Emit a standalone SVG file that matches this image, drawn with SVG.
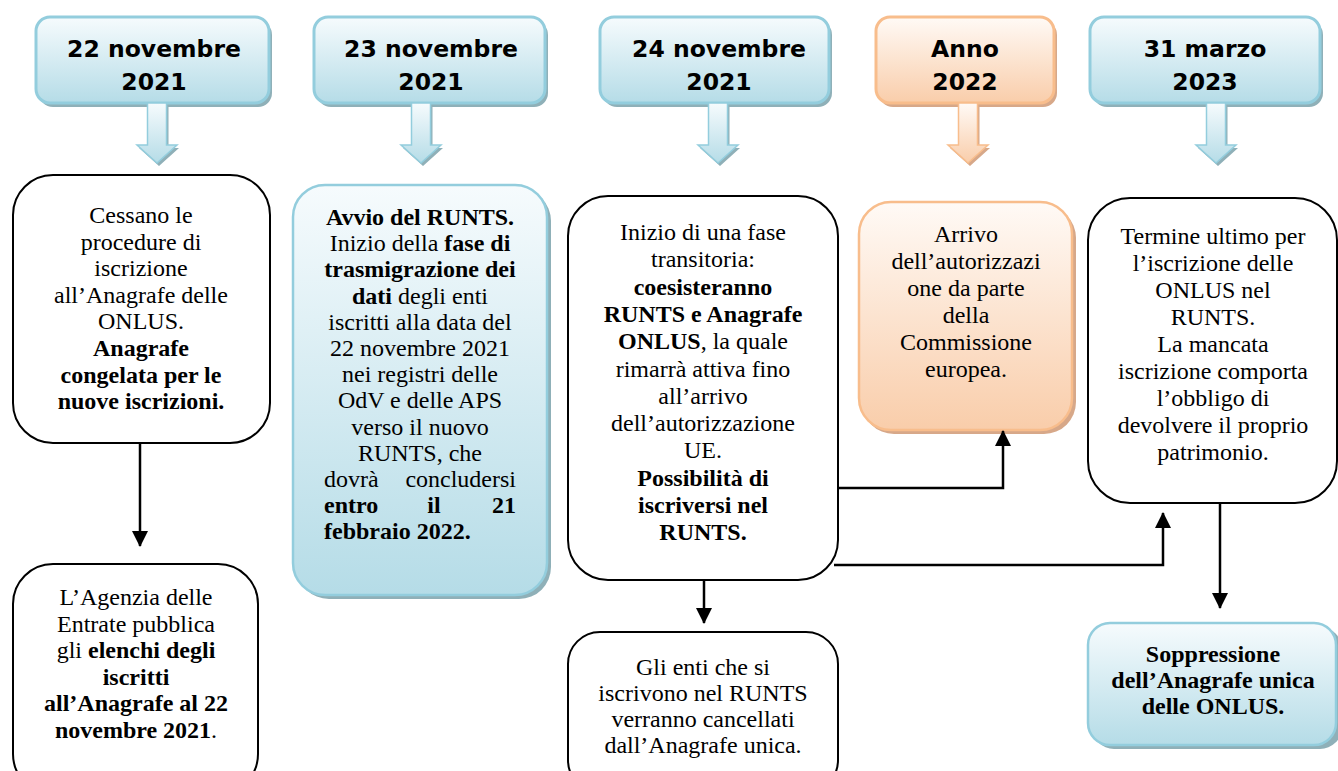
<svg xmlns="http://www.w3.org/2000/svg" width="1338" height="771" viewBox="0 0 1338 771">
<defs>
<linearGradient id="gBlue" x1="0" y1="0" x2="0" y2="1"><stop offset="0" stop-color="#f6fbfd"/><stop offset="1" stop-color="#b5dce7"/></linearGradient>
<linearGradient id="gOrange" x1="0" y1="0" x2="0" y2="1"><stop offset="0" stop-color="#fffaf6"/><stop offset="1" stop-color="#f9cdaa"/></linearGradient>
<marker id="ah" viewBox="0 0 16 16" markerUnits="userSpaceOnUse" markerWidth="16" markerHeight="16" refX="15" refY="8" orient="auto"><path d="M0,0 L16,8 L0,16 z" fill="#000"/></marker>
<style>
.hdr{fill:url(#gBlue);stroke:#93cddd;stroke-width:3}
.hdrO{fill:url(#gOrange);stroke:#f8bd8c;stroke-width:3}
.shB{fill:#8fb0b8}
.shO{fill:#d7a889}
.bar{fill:url(#gBlue);stroke:#93cddd;stroke-width:1.5}
.barO{fill:url(#gOrange);stroke:#f8bd8c;stroke-width:1.5}
.box{fill:#fff;stroke:#000;stroke-width:2}
.bl{fill:url(#gBlue);stroke:#93cddd;stroke-width:2.5}
.or{fill:url(#gOrange);stroke:#f8bd8c;stroke-width:2.5}
.ht{font-family:"DejaVu Sans",Verdana,sans-serif;font-weight:bold;font-size:23.5px;fill:#000;text-anchor:middle}
.t{font-family:"Liberation Serif","Times New Roman",serif;font-size:24px;fill:#000;text-anchor:middle}
.t.ts{text-anchor:start}
.t.te{text-anchor:end}
.b{font-weight:bold}
.conn{fill:none;stroke:#000;stroke-width:2.5;marker-end:url(#ah)}
</style>
</defs>
<rect width="1338" height="771" fill="#fff"/>

<!-- Headers -->
<g id="h1">
<rect class="shB" x="39" y="21" width="233" height="86" rx="14"/>
<rect class="hdr" x="36" y="17" width="233" height="86" rx="14"/>
<polygon class="shB" points="149.5,106 168.5,106 168.5,148 179,148 159,166 139,148 149.5,148"/>
<polygon class="bar" points="147.5,103 166.5,103 166.5,145 177,145 157,163 137,145 147.5,145"/>
<text class="ht" x="154" y="57">22 novembre</text>
<text class="ht" x="154" y="90">2021</text>
</g>
<g id="h2">
<rect class="shB" x="317" y="21" width="231" height="86" rx="14"/>
<rect class="hdr" x="314" y="17" width="231" height="86" rx="14"/>
<polygon class="shB" points="413.5,106 432.5,106 432.5,148 443,148 423,166 403,148 413.5,148"/>
<polygon class="bar" points="411.5,103 430.5,103 430.5,145 441,145 421,163 401,145 411.5,145"/>
<text class="ht" x="431" y="57">23 novembre</text>
<text class="ht" x="431" y="90">2021</text>
</g>
<g id="h3">
<rect class="shB" x="603" y="21" width="229" height="86" rx="14"/>
<rect class="hdr" x="600" y="17" width="229" height="86" rx="14"/>
<polygon class="shB" points="710.5,106 729.5,106 729.5,148 740,148 720,166 700,148 710.5,148"/>
<polygon class="bar" points="708.5,103 727.5,103 727.5,145 738,145 718,163 698,145 708.5,145"/>
<text class="ht" x="719" y="57">24 novembre</text>
<text class="ht" x="719" y="90">2021</text>
</g>
<g id="h4">
<rect class="shO" x="879" y="21" width="178" height="86" rx="14"/>
<rect class="hdrO" x="876" y="17" width="178" height="86" rx="14"/>
<polygon class="shO" points="960.5,106 979.5,106 979.5,148 990,148 970,166 950,148 960.5,148"/>
<polygon class="barO" points="958.5,103 977.5,103 977.5,145 988,145 968,163 948,145 958.5,145"/>
<text class="ht" x="965" y="57">Anno</text>
<text class="ht" x="965" y="90">2022</text>
</g>
<g id="h5">
<rect class="shB" x="1093" y="21" width="230" height="86" rx="14"/>
<rect class="hdr" x="1090" y="17" width="230" height="86" rx="14"/>
<polygon class="shB" points="1208.5,106 1227.5,106 1227.5,148 1238,148 1218,166 1198,148 1208.5,148"/>
<polygon class="bar" points="1206.5,103 1225.5,103 1225.5,145 1236,145 1216,163 1196,145 1206.5,145"/>
<text class="ht" x="1205" y="57">31 marzo</text>
<text class="ht" x="1205" y="90">2023</text>
</g>

<!-- Body nodes -->
<g id="b1">
<rect class="box" x="13" y="175" width="257" height="268" rx="40"/>
<text class="t" x="141" y="223">Cessano le</text>
<text class="t" x="141" y="249.6">procedure di</text>
<text class="t" x="141" y="276.2">iscrizione</text>
<text class="t" x="141" y="302.8">all’Anagrafe delle</text>
<text class="t" x="141" y="329.4">ONLUS.</text>
<text class="t b" x="141" y="356">Anagrafe</text>
<text class="t b" x="141" y="382.6">congelata per le</text>
<text class="t b" x="141" y="409.2">nuove iscrizioni.</text>
</g>
<g id="b2">
<rect class="box" x="13" y="564" width="245" height="230" rx="40"/>
<text class="t" x="136" y="605">L’Agenzia delle</text>
<text class="t" x="136" y="631.5">Entrate pubblica</text>
<text class="t" x="136" y="658">gli <tspan class="b">elenchi degli</tspan></text>
<text class="t b" x="136" y="684.5">iscritti</text>
<text class="t b" x="136" y="711">all’Anagrafe al 22</text>
<text class="t" x="136" y="737.5"><tspan class="b">novembre 2021</tspan>.</text>
</g>
<g id="b3">
<rect class="shB" x="297" y="189" width="254" height="410" rx="32"/>
<rect class="bl" x="293" y="185" width="254" height="410" rx="32"/>
<text class="t b" x="420" y="225">Avvio del RUNTS.</text>
<text class="t" x="420" y="251.2">Inizio della <tspan class="b">fase di</tspan></text>
<text class="t b" x="420" y="277.4">trasmigrazione dei</text>
<text class="t" x="420" y="303.6"><tspan class="b">dati</tspan> degli enti</text>
<text class="t" x="420" y="329.8">iscritti alla data del</text>
<text class="t" x="420" y="356">22 novembre 2021</text>
<text class="t" x="420" y="382.2">nei registri delle</text>
<text class="t" x="420" y="408.4">OdV e delle APS</text>
<text class="t" x="420" y="434.6">verso il nuovo</text>
<text class="t" x="420" y="460.8">RUNTS, che</text>
<text class="t ts" x="324" y="487">dovrà</text>
<text class="t te" x="516" y="487">concludersi</text>
<text class="t b ts" x="324" y="513.2">entro</text>
<text class="t b" x="434" y="513.2">il</text>
<text class="t b te" x="516" y="513.2">21</text>
<text class="t b ts" x="324" y="539.4">febbraio 2022.</text>
</g>
<g id="b4">
<rect class="box" x="568" y="196" width="270" height="384" rx="40"/>
<text class="t" x="703" y="240">Inizio di una fase</text>
<text class="t" x="703" y="267.3">transitoria:</text>
<text class="t b" x="703" y="294.6">coesisteranno</text>
<text class="t b" x="703" y="321.9">RUNTS e Anagrafe</text>
<text class="t" x="703" y="349.2"><tspan class="b">ONLUS</tspan>, la quale</text>
<text class="t" x="703" y="376.5">rimarrà attiva fino</text>
<text class="t" x="703" y="403.8">all’arrivo</text>
<text class="t" x="703" y="431.1">dell’autorizzazione</text>
<text class="t" x="703" y="458.4">UE.</text>
<text class="t b" x="703" y="485.7">Possibilità di</text>
<text class="t b" x="703" y="513">iscriversi nel</text>
<text class="t b" x="703" y="540.3">RUNTS.</text>
</g>
<g id="b5">
<rect class="box" x="568" y="632" width="270" height="160" rx="32"/>
<text class="t" x="703" y="675">Gli enti che si</text>
<text class="t" x="703" y="701">iscrivono nel RUNTS</text>
<text class="t" x="703" y="727">verranno cancellati</text>
<text class="t" x="703" y="753">dall’Anagrafe unica.</text>
</g>
<g id="b6">
<rect class="shO" x="862" y="206" width="214" height="228" rx="32"/>
<rect class="or" x="859" y="202" width="213" height="228" rx="32"/>
<text class="t" x="966" y="242">Arrivo</text>
<text class="t" x="966" y="269">dell’autorizzazi</text>
<text class="t" x="966" y="296">one da parte</text>
<text class="t" x="966" y="323">della</text>
<text class="t" x="966" y="350">Commissione</text>
<text class="t" x="966" y="377">europea.</text>
</g>
<g id="b7">
<rect class="box" x="1088" y="198" width="249" height="305" rx="42"/>
<text class="t" x="1213" y="244">Termine ultimo per</text>
<text class="t" x="1213" y="271">l’iscrizione delle</text>
<text class="t" x="1213" y="298">ONLUS nel</text>
<text class="t" x="1213" y="325">RUNTS.</text>
<text class="t" x="1213" y="352">La mancata</text>
<text class="t" x="1213" y="379">iscrizione comporta</text>
<text class="t" x="1213" y="406">l’obbligo di</text>
<text class="t" x="1213" y="433">devolvere il proprio</text>
<text class="t" x="1213" y="460">patrimonio.</text>
</g>
<g id="b8">
<rect class="shB" x="1092" y="627" width="250" height="122" rx="22"/>
<rect class="bl" x="1088" y="623" width="248" height="122" rx="22"/>
<text class="t b" x="1213" y="662">Soppressione</text>
<text class="t b" x="1213" y="688">dell’Anagrafe unica</text>
<text class="t b" x="1213" y="714">delle ONLUS.</text>
</g>

<!-- Connectors -->
<g id="connectors">
<path class="conn" d="M140,443 V546"/>
<path class="conn" d="M704,580 V623"/>
<path class="conn" d="M838,488 H1003 V431"/>
<path class="conn" d="M834,565 H1163 V513"/>
<path class="conn" d="M1220,503 V608"/>
</g>
</svg>
